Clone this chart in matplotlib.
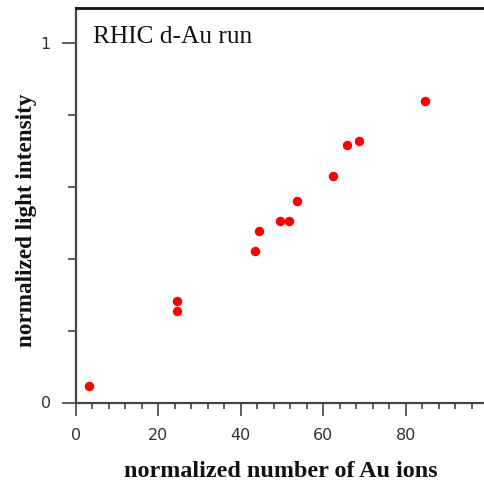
import matplotlib
matplotlib.use("Agg")
import matplotlib.pyplot as plt
from matplotlib.ticker import MultipleLocator

au_ions = [3.2, 24.4, 24.4, 43.5, 44.4, 49.5, 51.6, 53.6, 62.5, 65.7, 68.7, 84.8]
light = [0.047, 0.254, 0.282, 0.422, 0.477, 0.503, 0.503, 0.559, 0.629, 0.715, 0.726, 0.837]
x_ticks = [0, 20, 40, 60, 80]
y_ticks = [0, 1]

W, H = 485, 483
fig = plt.figure(figsize=(W / 100, H / 100), dpi=100)
x0, x1 = 76, 488
y0, y1 = 402.5, 7.5
ax = fig.add_axes([x0 / W, 1 - y0 / H, (x1 - x0) / W, (y0 - y1) / H])
ax.set_xlim(0, 100)
ax.set_ylim(0, (y0 - y1) / 360)

ax.plot(au_ions, light, 'o', color='#ff0000', ms=5.8, mec='#ff0000', clip_on=False)

ax.spines['right'].set_visible(False)
for s in ['left', 'bottom']:
    ax.spines[s].set_color('#444444')
    ax.spines[s].set_linewidth(1.6)
ax.spines['top'].set_color('#111111')
ax.spines['top'].set_linewidth(2)

ax.set_xticks(x_ticks)
ax.set_yticks(y_ticks)
ax.xaxis.set_minor_locator(MultipleLocator(4))
ax.yaxis.set_minor_locator(MultipleLocator(0.2))
ax.tick_params(which='major', direction='out', length=9, width=1.2, color='#444444',
               labelsize=11.5, labelcolor='#333333', pad=9)
ax.tick_params(which='minor', direction='out', length=4.5, width=1.2, color='#444444')
ax.tick_params(axis='y', which='major', length=10, pad=8)
ax.tick_params(axis='y', which='minor', length=6)
ax.tick_params(top=False, right=False, which='both')

serif = ['Liberation Serif', 'DejaVu Serif']
fig.text(280.5 / W, 1 - 477 / H, 'normalized number of Au ions', family=serif,
         fontsize=17.4, fontweight='bold', ha='center', va='baseline', color='#111111')
fig.text(27 / W, 1 - 220 / H, 'normalized light intensity', family=serif,
         fontsize=16.7, fontweight='bold', ha='center', va='center', rotation=90,
         color='#111111')
fig.text(93 / W, 1 - 43 / H, 'RHIC d-Au run', family=serif, fontsize=18.3,
         ha='left', va='baseline', color='#111111')

fig.savefig('out.png', dpi=100)
